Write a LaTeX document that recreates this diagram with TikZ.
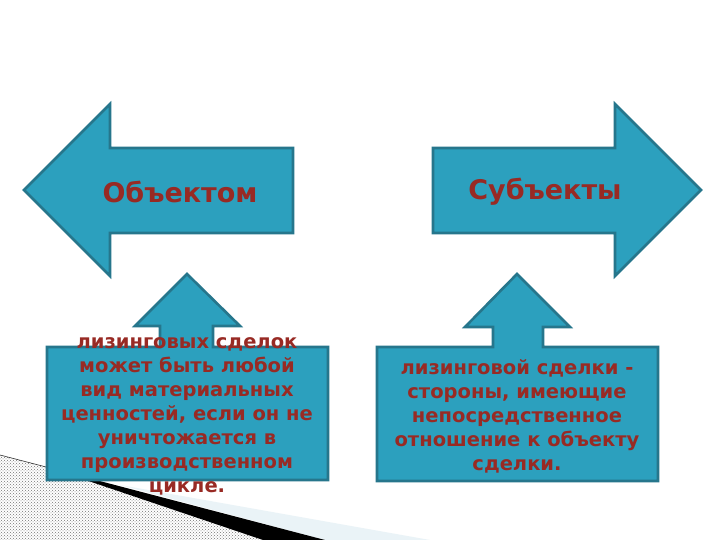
\documentclass[tikz,border=0pt]{standalone}
\usepackage{fontspec}
\setmainfont{DejaVu Sans}
\usetikzlibrary{patterns}

\definecolor{arrowfill}{RGB}{44,160,190}
\definecolor{arrowline}{RGB}{38,118,140}
\definecolor{textred}{RGB}{152,42,36}
\definecolor{paleblue}{RGB}{234,243,247}

\tikzset{
	bluearrow/.style={fill=arrowfill, draw=arrowline, line width=2.6pt, line join=miter},
	headtext/.style={text=textred, font=\fontsize{27}{29}\selectfont\bfseries},
	boxtext/.style={text=textred, align=center, font=\fontsize{19.5}{24}\selectfont\bfseries}
}

\begin{document}
\begin{tikzpicture}[x=1pt, y=-1pt]
				\useasboundingbox[fill=white] (0,0) rectangle (720,540);
				
				% slide corner
				\fill[paleblue] (120,485) -- (430,540) -- (325,540) -- cycle;
				\fill[pattern=crosshatch dots, pattern color=black!55] (0,455) -- (50,468) -- (263,540) -- (0,540) -- cycle;
				\fill[black] (50,468) -- (325,540) -- (263,540) -- cycle;
				\draw[black!80, line width=0.6pt] (0,455) -- (50,468);
				
				% big arrows
				\draw[bluearrow] (24,190) -- (110,104) -- (110,148) -- (293,148) -- (293,233) -- (110,233) -- (110,276) -- cycle;
				\draw[bluearrow] (701,190) -- (615,104) -- (615,148) -- (433,148) -- (433,233) -- (615,233) -- (615,276) -- cycle;
				
				% boxes with up arrows
				\draw[bluearrow] (47,347) -- (160,347) -- (160,326) -- (135,326) -- (187,274) -- (240,326) -- (213,326) -- (213,347) -- (328,347) -- (328,480) -- (47,480) -- cycle;
				\draw[bluearrow] (377,347) -- (493,347) -- (493,327) -- (465,327) -- (517,274) -- (570,327) -- (543,327) -- (543,347) -- (658,347) -- (658,481) -- (377,481) -- cycle;
				
				\node[headtext] (obj) at (180,192) {Объектом};
				\node[headtext] (subj) at (545,192) {Субъекты};
				
				\node[boxtext] (objtxt) at (187,416) {лизинговых сделок\\может быть любой\\вид материальных\\ценностей, если он не\\уничтожается в\\производственном\\цикле.};
				\node[boxtext] (subjtxt) at (517,416) {лизинговой сделки -\\стороны, имеющие\\непосредственное\\отношение к объекту\\сделки.};
			\end{tikzpicture}
\end{document}
